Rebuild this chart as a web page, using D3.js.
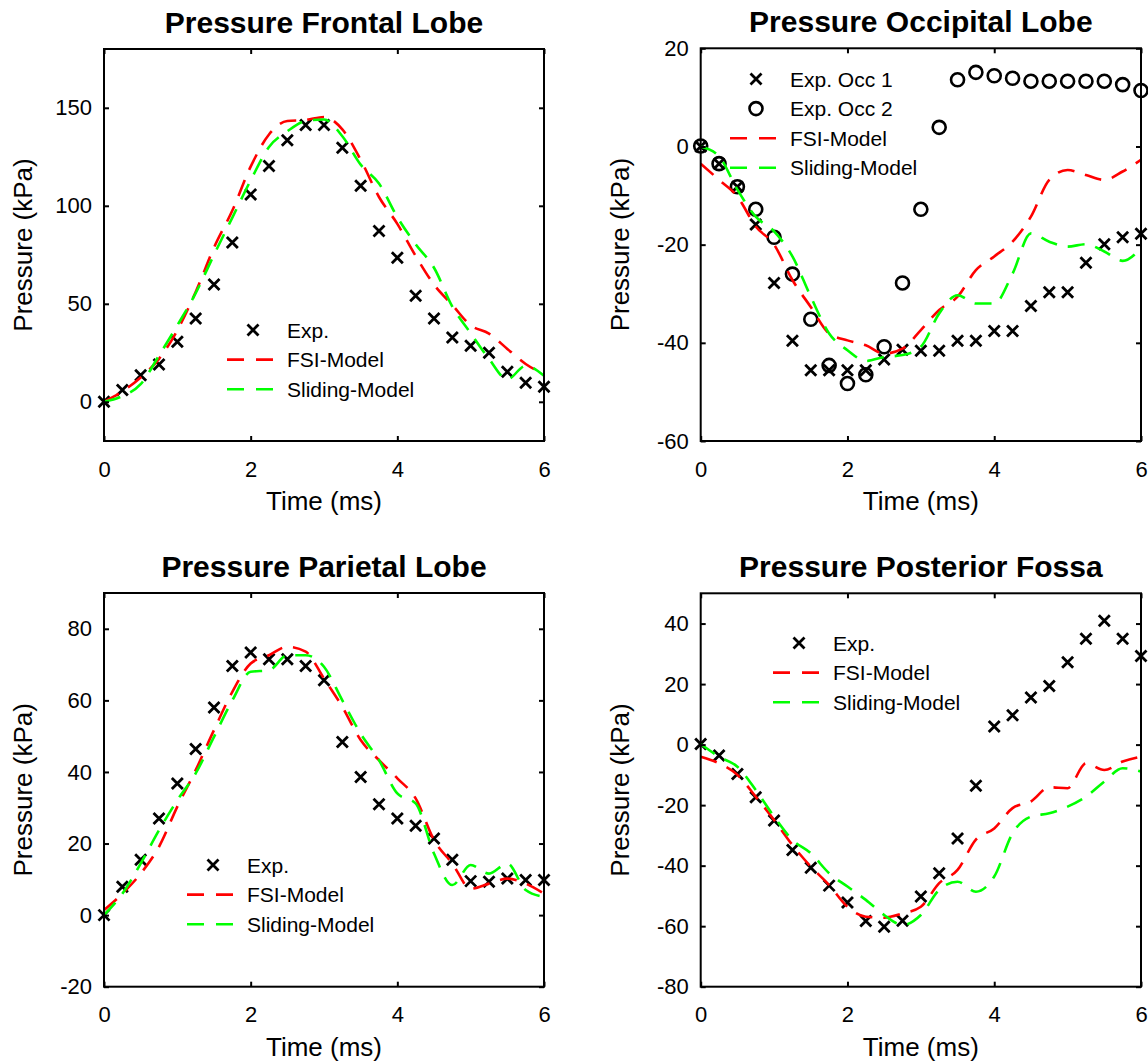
<!DOCTYPE html>
<html><head><meta charset="utf-8">
<script src="https://cdn.jsdelivr.net/npm/d3@7"></script>
<style>body{margin:0;background:#fff}svg text{font-family:"Liberation Sans",Arial,sans-serif;fill:#000}</style>
</head><body><svg id="c" width="1148" height="1062"></svg>
<script>
// ---- data ----
const time = [0,0.25,0.5,0.75,1,1.25,1.5,1.75,2,2.25,2.5,2.75,3,3.25,3.5,3.75,4,4.25,4.5,4.75,5,5.25,5.5,5.75,6];
const xTicks = [0,2,4,6];

const frontalExp     = [0,6,13.6,19,30.6,42.5,59.9,81.3,105.8,120.3,133.5,141.2,141.2,129.6,110.2,87.1,73.5,54.1,42.5,32.8,28.6,25,15.3,9.7,7.7];
const frontalFSI     = [0,5.3,12.4,21.9,36.5,56,78.7,97.6,120,136.4,143.3,143.8,145.3,139,123.5,104.5,90.8,74.4,59.8,49.4,39,34.8,27,19.3,14.1];
const frontalSliding = [0,2.9,9,23.6,39,55.4,75,94,113,130,138,143.3,144,135.5,121,111.4,94.2,80.4,68.4,48.6,35,21.9,11.5,18.4,13.3];
const frontalYTicks  = [0,50,100,150];

const occExp1    = [0,-3.5,-8.2,-15.9,-27.8,-39.6,-45.6,-45.6,-45.6,-45.6,-43.4,-41.4,-41.6,-41.6,-39.6,-39.6,-37.6,-37.6,-32.5,-29.7,-29.7,-23.7,-19.9,-18.5,-17.8];
const occExp2    = [0.1,-3.5,-8.2,-12.8,-18.5,-26,-35.2,-44.6,-48.3,-46.5,-40.8,-27.8,-12.8,3.9,13.6,15.1,14.4,13.9,13.3,13.3,13.3,13.3,13.3,12.6,11.4];
const occFSI     = [-3.5,-6.8,-10.2,-16.3,-20,-27.2,-32.7,-38.1,-39.5,-40.5,-42.2,-41.2,-37.4,-33.3,-30.6,-25.2,-22.4,-19.4,-14.3,-6.8,-4.8,-5.8,-6.8,-5.1,-2.7];
const occSliding = [0,-2,-8.8,-14.3,-17.3,-22.4,-30.6,-38.1,-41.5,-43.7,-42.9,-42.5,-40.8,-34,-30.3,-32,-32,-25.9,-17.7,-19.4,-20.4,-19.9,-21.4,-23.3,-20.7];
const occYTicks  = [-60,-40,-20,0,20];

const parExp     = [0,7.9,15.5,27,36.8,46.4,58,69.6,73.4,71.5,71.5,69.6,65.6,48.4,38.6,31,27,25,21.4,15.5,9.5,9.3,10.2,9.8,9.8];
const parFSI     = [1.4,6,11.6,19.1,30.3,40.5,51.7,62.4,70.3,72.6,75,73.6,66.1,58.2,48.9,43.3,38.2,32.6,21,14.4,7.4,8.8,10.2,8.8,6];
const parSliding = [0,6,14.4,23.7,32.1,39.6,49.8,60,68,68.4,72.6,72.6,69.4,60,50.7,43.3,34,31.2,17.2,8.4,14,11.6,14.4,7,5.1];
const parYTicks  = [-20,0,20,40,60,80];

const pfExp      = [0.2,-3.6,-9.7,-17.4,-25.1,-34.8,-40.7,-46.6,-52.2,-58.3,-60.2,-58.2,-50.2,-42.5,-31,-13.6,6,9.7,15.6,19.4,27.2,35,40.9,35,29.3];
const pfFSI      = [-4,-6.2,-10,-17.2,-24.9,-33.2,-40.3,-46.4,-53.6,-56.9,-57.2,-55.8,-53.6,-45.8,-41.4,-31.4,-27.7,-21,-18.8,-14.1,-14.4,-6.2,-8.4,-5.6,-4];
const pfSliding  = [0.2,-4,-7.3,-15,-23.8,-31.5,-35.9,-42.5,-46.9,-51.3,-56.3,-59.6,-56.3,-48,-45.3,-48.6,-43.6,-29.3,-23.8,-22.7,-20.5,-17.2,-12.2,-7.8,-8.9];
const pfYTicks   = [-80,-60,-40,-20,0,20,40];

const titles = ["Pressure Frontal Lobe","Pressure Occipital Lobe","Pressure Parietal Lobe","Pressure Posterior Fossa"];
const xLabel = "Time (ms)";
const yLabel = "Pressure (kPa)";

// ---- layout ----
const svg = d3.select("#c");
const panels = [
  {title:titles[0], box:[104,49,544,441], ydom:[-20,180], yticks:frontalYTicks,
   series:[{type:"x",name:"Exp.",v:frontalExp},{type:"line",name:"FSI-Model",v:frontalFSI,color:"#ff0000"},{type:"line",name:"Sliding-Model",v:frontalSliding,color:"#00ff00"}],
   legend:[250,330]},
  {title:titles[1], box:[700.7,48.3,1141,441], ydom:[-60,20], yticks:occYTicks,
   series:[{type:"x",name:"Exp. Occ 1",v:occExp1},{type:"o",name:"Exp. Occ 2",v:occExp2},{type:"line",name:"FSI-Model",v:occFSI,color:"#ff0000"},{type:"line",name:"Sliding-Model",v:occSliding,color:"#00ff00"}],
   legend:[753,79]},
  {title:titles[2], box:[104,593,544,986.7], ydom:[-20,90], yticks:parYTicks,
   series:[{type:"x",name:"Exp.",v:parExp},{type:"line",name:"FSI-Model",v:parFSI,color:"#ff0000"},{type:"line",name:"Sliding-Model",v:parSliding,color:"#00ff00"}],
   legend:[210,865]},
  {title:titles[3], box:[700.7,593.3,1141,986.7], ydom:[-80,50], yticks:pfYTicks,
   series:[{type:"x",name:"Exp.",v:pfExp},{type:"line",name:"FSI-Model",v:pfFSI,color:"#ff0000"},{type:"line",name:"Sliding-Model",v:pfSliding,color:"#00ff00"}],
   legend:[796,643]}
];

function drawX(g, cx, cy, s){
  g.append("path").attr("d",`M${cx-s},${cy-s}L${cx+s},${cy+s}M${cx-s},${cy+s}L${cx+s},${cy-s}`)
   .attr("stroke","#000").attr("stroke-width",2.8).attr("fill","none");
}
function drawO(g, cx, cy, r){
  g.append("circle").attr("cx",cx).attr("cy",cy).attr("r",r).attr("fill","none").attr("stroke","#000").attr("stroke-width",2.6);
}
const fmt = d => String(d);

panels.forEach(p=>{
  const [x0,y0,x1,y1] = p.box;
  const x = d3.scaleLinear().domain([0,6]).range([x0,x1]);
  const y = d3.scaleLinear().domain(p.ydom).range([y1,y0]);
  const g = svg.append("g");

  // series
  p.series.filter(s=>s.type!=="line").forEach(s=>{
    s.v.forEach((v,i)=>{
      if(s.type==="x") drawX(g, x(time[i]), y(v), 5.5);
      else drawO(g, x(time[i]), y(v), 6.5);
    });
  });
  const line = d3.line().x((d,i)=>x(time[i])).y(d=>y(d)).curve(d3.curveMonotoneX);
  p.series.filter(s=>s.type==="line").forEach(s=>{
    g.append("path").datum(s.v).attr("d",line).attr("fill","none")
     .attr("stroke",s.color).attr("stroke-width",2.6).attr("stroke-dasharray","17,11");
  });

  // axes (ticks inside on all four sides)
  const tl = 5;
  const axB = d3.axisBottom(x).tickValues(xTicks).tickSize(-tl).tickPadding(20).tickFormat(fmt);
  const axT = d3.axisTop(x).tickValues(xTicks).tickSize(-tl).tickFormat("");
  const axL = d3.axisLeft(y).tickValues(p.yticks).tickSize(-tl).tickPadding(12).tickFormat(fmt);
  const axR = d3.axisRight(y).tickValues(p.yticks).tickSize(-tl).tickFormat("");
  const gb = g.append("g").attr("transform",`translate(0,${y1})`).call(axB);
  const gt = g.append("g").attr("transform",`translate(0,${y0})`).call(axT);
  const gl = g.append("g").attr("transform",`translate(${x0},0)`).call(axL);
  const gr = g.append("g").attr("transform",`translate(${x1},0)`).call(axR);
  [gb,gt,gl,gr].forEach(a=>{
    a.select(".domain").remove();
    a.selectAll(".tick line").attr("stroke","#000").attr("stroke-width",2);
    a.selectAll("text").attr("font-size",22).attr("font-family","Liberation Sans, Arial, sans-serif").attr("fill","#000");
  });
  g.append("rect").attr("x",x0).attr("y",y0).attr("width",x1-x0).attr("height",y1-y0)
   .attr("fill","none").attr("stroke","#000").attr("stroke-width",2);

  // labels
  const cxm = (x0+x1)/2, cym=(y0+y1)/2;
  g.append("text").attr("x",cxm).attr("y",y0-16).attr("text-anchor","middle")
   .attr("font-size",30).attr("font-weight","bold").text(p.title);
  g.append("text").attr("x",cxm).attr("y",y1+69).attr("text-anchor","middle")
   .attr("font-size",26).text(xLabel);
  g.append("text").attr("transform",`translate(${x0-72},${cym}) rotate(-90)`).attr("text-anchor","middle")
   .attr("font-size",26).text(yLabel);

  // legend
  const [lx,ly] = p.legend;
  p.series.forEach((s,i)=>{
    const yy = ly + i*29.6;
    if(s.type==="x") drawX(g, lx+3, yy, 5.5);
    else if(s.type==="o") drawO(g, lx+3, yy, 6.5);
    else g.append("line").attr("x1",lx-23).attr("x2",lx+23).attr("y1",yy).attr("y2",yy)
          .attr("stroke",s.color).attr("stroke-width",2.6).attr("stroke-dasharray","17,12");
    g.append("text").attr("x",lx+37).attr("y",yy).attr("dy","0.36em").attr("font-size",21).text(s.name);
  });
});
</script></body></html>
